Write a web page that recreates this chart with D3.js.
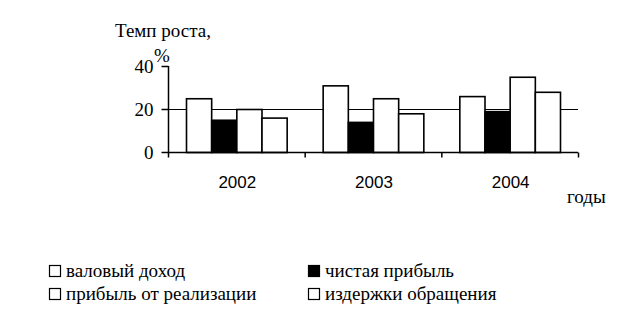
<!DOCTYPE html>
<html>
<head>
<meta charset="utf-8">
<script src="https://cdn.jsdelivr.net/npm/d3@7"></script>
<style>
body { margin:0; background:#fff; }
text { fill:#000; }
.serif { font-family: "Liberation Serif", "Times New Roman", "DejaVu Serif", serif; }
.sans { font-family: "Liberation Sans", Arial, sans-serif; }
</style>
</head>
<body>
<script>
var years = ["2002", "2003", "2004"];
var series = ["валовый доход", "чистая прибыль", "прибыль от реализации", "издержки обращения"];
var fills = ["#fff", "#000", "#fff", "#fff"];
var values = [
    [25, 15, 20, 16],
    [31, 14, 25, 18],
    [26, 19, 35, 28]
];
var yTicks = [0, 20, 40];

var window_w = 621, window_h = 314;
var margin = {left:168, top:66, right:43};
var frame_w = window_w - margin.left - margin.right;
var frame_h = 86;

var svg = d3.select("body").append("svg")
    .attr("width", window_w)
    .attr("height", window_h);

var xScale = d3.scaleBand().domain(years).range([0, frame_w]).paddingInner(0).paddingOuter(0);
var inner = d3.scaleBand().domain(d3.range(series.length)).range([18, xScale.bandwidth() - 18]);
var yScale = d3.scaleLinear().domain([0, 40]).range([frame_h, 0]);

var g = svg.append("g").attr("transform", "translate(" + margin.left + "," + margin.top + ")");

// grid line at 20
g.selectAll(".grid").data([20]).enter().append("line")
    .attr("x1", 0).attr("x2", frame_w)
    .attr("y1", d => yScale(d) + 0.5).attr("y2", d => yScale(d) + 0.5)
    .attr("stroke", "#000").attr("stroke-width", 1);

// bars
var groups = g.selectAll(".grp").data(values).enter().append("g")
    .attr("transform", (d, i) => "translate(" + xScale(years[i]) + ",0)");
groups.selectAll("rect").data(d => d).enter().append("rect")
    .attr("x", (d, i) => inner(i) + 0.5)
    .attr("y", d => yScale(d) + 0.5)
    .attr("width", inner.bandwidth())
    .attr("height", d => frame_h - yScale(d))
    .attr("fill", (d, i) => fills[i])
    .attr("stroke", "#000").attr("stroke-width", 1.6);

// y axis
var yAxis = d3.axisLeft(yScale).tickValues(yTicks).tickSize(7).tickPadding(8);
var ya = g.append("g").attr("transform", "translate(0.5,0)").call(yAxis);
ya.attr("font-family", null).attr("font-size", null);
ya.select(".domain").attr("d", "M0,0V" + frame_h).attr("stroke-width", 1.5);
ya.selectAll("text").attr("class", "serif").style("font-size", "19px").attr("dy", "0.36em");
ya.selectAll(".tick line").attr("stroke-width", 1.5);

// x axis
var xAxis = d3.axisBottom(d3.scaleLinear().domain([0, 3]).range([0, frame_w]))
    .tickValues([0, 1, 2, 3]).tickSize(5).tickFormat("");
var xa = g.append("g").attr("transform", "translate(0," + (frame_h + 0.5) + ")").call(xAxis);
xa.select(".domain").attr("d", "M0,0H" + frame_w).attr("stroke-width", 1.5);
xa.selectAll(".tick line").attr("stroke-width", 1.5);

g.selectAll(".yr").data(years).enter().append("text")
    .attr("class", "sans")
    .attr("x", d => xScale(d) + xScale.bandwidth() / 2 + 1)
    .attr("y", frame_h + 36)
    .attr("text-anchor", "middle")
    .style("font-size", "17px")
    .text(d => d);

// titles
svg.append("text").attr("class", "serif").attr("x", 115).attr("y", 37)
    .style("font-size", "19px")
    .text("Темп роста,");
svg.append("text").attr("class", "serif").attr("x", 154).attr("y", 62)
    .style("font-size", "19px")
    .text("%");
svg.append("text").attr("class", "serif").attr("x", 567).attr("y", 203)
    .style("font-size", "19px")
    .text("годы");

// legend
var legendOrder = [0, 1, 2, 3];
var leg = svg.selectAll(".leg").data(legendOrder).enter().append("g")
    .attr("transform", (d, i) => "translate(" + (i % 2 ? 308 : 49) + "," + (i < 2 ? 265 : 288) + ")");
leg.append("rect")
    .attr("x", 0.5).attr("y", 0.5).attr("width", 11).attr("height", 11)
    .attr("fill", d => fills[d]).attr("stroke", "#000").attr("stroke-width", 1.2);
leg.append("text")
    .attr("class", "serif")
    .attr("x", 17).attr("y", 12)
    .style("font-size", "19px")
    .text(d => series[d]);
</script>
</body>
</html>
